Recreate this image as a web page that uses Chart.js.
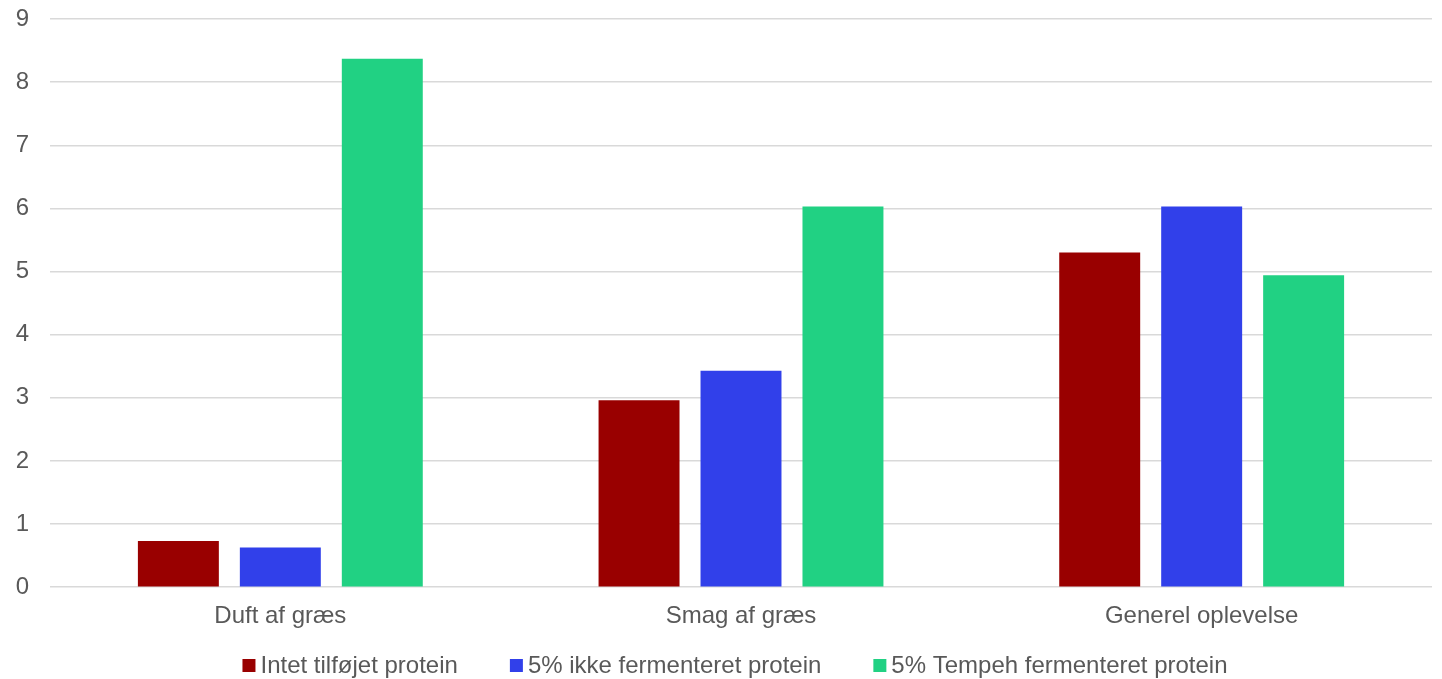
<!DOCTYPE html>
<html>
<head>
<meta charset="utf-8">
<script src="https://cdn.jsdelivr.net/npm/chart.js@4/dist/chart.umd.min.js"></script>
<style>
  html, body { margin: 0; padding: 0; background: #ffffff; }
  #wrap { width: 1442px; height: 679px; position: relative; }
</style>
</head>
<body>
<div id="wrap"><canvas id="c"></canvas></div>
<script>
// Categories and series
const categories = ['Duft af græs', 'Smag af græs', 'Generel oplevelse'];
const seriesNames = ['Intet tilføjet protein', '5% ikke fermenteret protein', '5% Tempeh fermenteret protein'];
const intetProtein = [0.73, 2.96, 5.30];
const ikkeFermenteret = [0.63, 3.43, 6.03];
const tempehFermenteret = [8.37, 6.03, 4.94];
const yTicks = [0, 1, 2, 3, 4, 5, 6, 7, 8, 9];

const colors = ['#990000', '#3140EA', '#21D183'];
const textColor = '#595959';
const fontFamily = '"Liberation Sans", Arial, sans-serif';

// Legend drawn below the axis: small square, short gap, label
const bottomLegend = {
  id: 'bottomLegend',
  afterDraw(chart) {
    const ctx = chart.ctx;
    const box = 13, gap = 5, spacing = 52, size = 24;
    ctx.save();
    ctx.font = size + 'px ' + fontFamily;
    const items = chart.data.datasets.map(ds => ({
      label: ds.label,
      color: ds.backgroundColor,
      w: box + gap + ctx.measureText(ds.label).width
    }));
    const total = items.reduce((s, it) => s + it.w, 0) + spacing * (items.length - 1);
    let x = chart.width / 2 + 14 - total / 2;
    const cy = 665.5;
    ctx.textBaseline = 'middle';
    ctx.textAlign = 'left';
    items.forEach(it => {
      ctx.fillStyle = it.color;
      ctx.fillRect(x, cy - box / 2, box, box);
      ctx.fillStyle = textColor;
      ctx.fillText(it.label, x + box + gap, cy + 1);
      x += it.w + spacing;
    });
    ctx.restore();
  }
};

const data = {
  labels: categories,
  datasets: [
    { label: seriesNames[0], data: intetProtein, backgroundColor: colors[0] },
    { label: seriesNames[1], data: ikkeFermenteret, backgroundColor: colors[1] },
    { label: seriesNames[2], data: tempehFermenteret, backgroundColor: colors[2] }
  ].map(ds => Object.assign(ds, { barPercentage: 0.794, categoryPercentage: 0.664 }))
};

new Chart(document.getElementById('c'), {
  type: 'bar',
  data,
  options: {
    responsive: true,
    maintainAspectRatio: false,
    animation: false,
    layout: { padding: { left: 16, right: 10, top: 19, bottom: 41 } },
    plugins: {
      legend: { display: false },
      tooltip: { enabled: false }
    },
    scales: {
      x: {
        grid: { display: false },
        border: { display: false },
        ticks: {
          color: textColor,
          padding: 7,
          font: { family: fontFamily, size: 24 }
        }
      },
      y: {
        min: yTicks[0],
        max: yTicks[yTicks.length - 1],
        afterBuildTicks(scale) { scale.ticks = yTicks.map(v => ({ value: v })); },
        afterFit(scale) {
          scale.width = 34;
          scale.paddingTop = 0;
          scale.paddingBottom = 0;
        },
        grid: { color: '#D9D9D9', lineWidth: 1.5, drawTicks: false },
        border: { display: false },
        ticks: {
          color: textColor,
          padding: 21,
          font: { family: fontFamily, size: 24 }
        }
      }
    }
  },
  plugins: [bottomLegend]
});
</script>
</body>
</html>
